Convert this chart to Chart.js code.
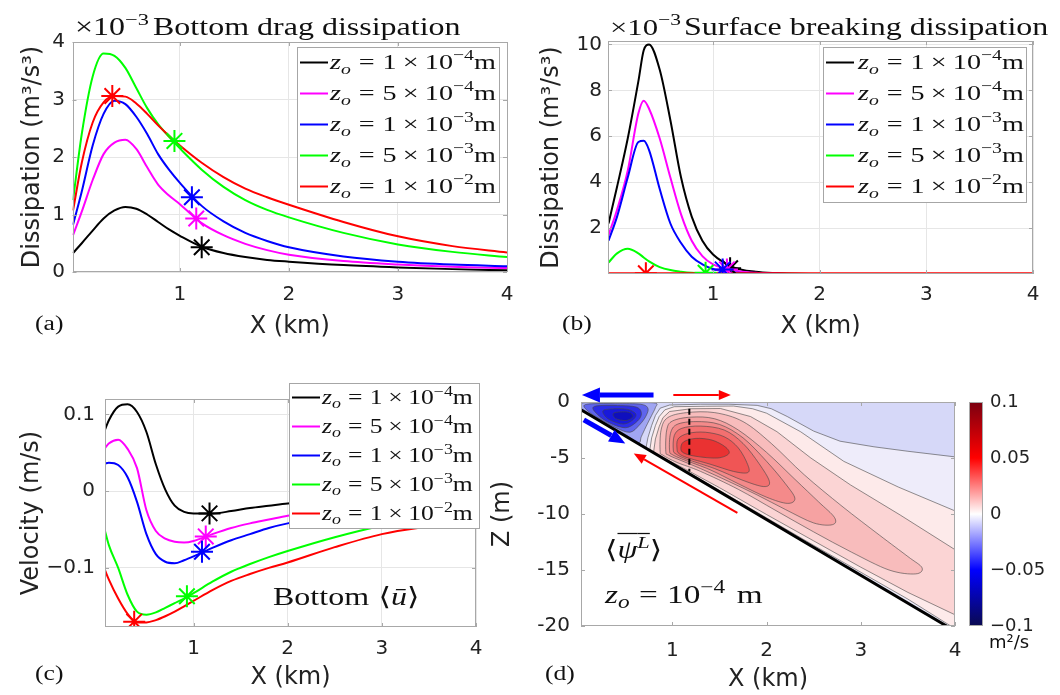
<!DOCTYPE html>
<html>
<head>
<meta charset="utf-8">
<style>
  body { margin: 0; background: #fff; width: 1060px; height: 695px; overflow: hidden; position: relative; }
  canvas { position: absolute; }
</style>
<script src="https://cdn.jsdelivr.net/npm/chart.js@4.4.1/dist/chart.umd.min.js"></script>
</head>
<body>
<canvas id="panelA" width="530" height="345" style="left:0;top:0;width:530px;height:345px"></canvas>
<canvas id="panelB" width="530" height="345" style="left:530px;top:0;width:530px;height:345px"></canvas>
<canvas id="panelC" width="530" height="350" style="left:0;top:345px;width:530px;height:350px"></canvas>
<canvas id="panelD" width="580" height="350" style="left:480px;top:345px;width:580px;height:350px"></canvas>
<script>
// ---- (a) bottom drag dissipation, units of 1e-3 m^3/s^3
const xDrag = [0.02, 0.1, 0.2, 0.3, 0.4, 0.5, 0.6, 0.7, 0.8, 0.9, 1.0, 1.2, 1.4, 1.6, 1.8, 2.0, 2.5, 3.0, 3.5, 4.0];
const drag1e4 = [0.33, 0.50, 0.72, 0.93, 1.07, 1.13, 1.10, 1.00, 0.87, 0.74, 0.63, 0.44, 0.33, 0.26, 0.21, 0.18, 0.12, 0.08, 0.05, 0.03];
const drag5e4 = [0.64, 1.05, 1.60, 2.05, 2.25, 2.30, 2.14, 1.82, 1.52, 1.33, 1.18, 0.85, 0.64, 0.49, 0.38, 0.30, 0.19, 0.13, 0.09, 0.07];
const drag1e3 = [0.82, 1.40, 2.20, 2.75, 2.98, 2.92, 2.70, 2.40, 2.05, 1.78, 1.55, 1.15, 0.88, 0.68, 0.54, 0.43, 0.27, 0.18, 0.13, 0.10];
const drag5e3 = [1.25, 2.40, 3.40, 3.80, 3.76, 3.55, 3.20, 2.85, 2.57, 2.35, 2.15, 1.78, 1.48, 1.25, 1.08, 0.95, 0.68, 0.48, 0.35, 0.26];
const drag1e2 = [1.07, 1.90, 2.60, 2.95, 3.06, 3.05, 2.93, 2.75, 2.55, 2.37, 2.20, 1.90, 1.65, 1.45, 1.30, 1.17, 0.87, 0.62, 0.45, 0.34];
const dragStarX = [1.20, 1.15, 1.11, 0.95, 0.38];
const dragStarY = [0.43, 0.93, 1.30, 2.28, 3.06];

// ---- (b) surface breaking dissipation, units of 1e-3 m^3/s^3
const xBreak = [0.02, 0.1, 0.2, 0.3, 0.35, 0.4, 0.5, 0.6, 0.7, 0.8, 0.9, 1.0, 1.2, 1.4, 1.6, 1.8, 2.0, 3.0, 4.0];
const brk1e4 = [2.2, 3.8, 5.9, 8.4, 9.75, 10.0, 8.9, 6.7, 4.2, 2.5, 1.45, 0.85, 0.28, 0.10, 0.04, 0.01, 0, 0, 0];
const brk5e4 = [1.7, 2.8, 4.5, 7.0, 7.55, 7.2, 5.9, 4.2, 2.6, 1.45, 0.78, 0.42, 0.15, 0.05, 0.02, 0, 0, 0, 0];
const brk1e3 = [1.45, 2.5, 4.2, 5.75, 5.8, 5.4, 3.7, 2.2, 1.35, 0.75, 0.42, 0.22, 0.07, 0.02, 0, 0, 0, 0, 0];
const brk5e3 = [0.5, 0.9, 1.1, 0.9, 0.72, 0.55, 0.3, 0.17, 0.1, 0.05, 0.03, 0.02, 0.01, 0, 0, 0, 0, 0, 0];
const brk1e2 = [0.03, 0.03, 0.03, 0.03, 0.03, 0.03, 0.03, 0.03, 0.03, 0.03, 0.03, 0.03, 0.03, 0.03, 0.03, 0.03, 0.03, 0.03, 0.03];
const brkStarX = [1.16, 1.13, 1.09, 0.93, 0.37];
const brkStarY = [0.25, 0.20, 0.20, 0.05, 0.03];

// ---- (c) bottom velocity, m/s
const xVel = [0.06, 0.1, 0.2, 0.3, 0.4, 0.5, 0.6, 0.7, 0.8, 0.9, 1.0, 1.2, 1.4, 1.6, 1.8, 2.0, 2.5, 3.0, 3.5, 4.0];
const vel1e4 = [0.080, 0.092, 0.110, 0.113, 0.103, 0.077, 0.035, 0.002, -0.019, -0.027, -0.029, -0.029, -0.026, -0.022, -0.019, -0.016, -0.012, -0.009, -0.007, -0.005];
const vel5e4 = [0.056, 0.062, 0.067, 0.055, 0.030, -0.025, -0.052, -0.062, -0.066, -0.067, -0.065, -0.056, -0.048, -0.042, -0.037, -0.032, -0.024, -0.017, -0.012, -0.009];
const vel1e3 = [0.036, 0.037, 0.034, 0.018, -0.014, -0.056, -0.082, -0.092, -0.094, -0.090, -0.085, -0.074, -0.064, -0.056, -0.048, -0.042, -0.031, -0.022, -0.016, -0.012];
const vel5e3 = [-0.052, -0.070, -0.100, -0.135, -0.157, -0.161, -0.158, -0.152, -0.146, -0.140, -0.133, -0.118, -0.105, -0.095, -0.086, -0.078, -0.060, -0.045, -0.034, -0.026];
const vel1e2 = [-0.103, -0.115, -0.140, -0.160, -0.171, -0.171, -0.168, -0.163, -0.157, -0.150, -0.143, -0.129, -0.117, -0.108, -0.100, -0.093, -0.073, -0.056, -0.046, -0.038];
const velStarX = [1.17, 1.13, 1.09, 0.93, 0.37];
const velStarY = [-0.029, -0.059, -0.079, -0.137, -0.170];

// legend entries z_o = m x 10^e
const zoMantissa = ['1', '5', '1', '5', '1'];
const zoExponent = ['−4', '−4', '−3', '−3', '−2'];

// tick values / labels
const xTicks = [1, 2, 3, 4];
const dragTicks = [0, 1, 2, 3, 4];
const breakTicks = [2, 4, 6, 8, 10];
const velTicks = [-0.1, 0, 0.1];
const velTickLabels = ['−0.1', '0', '0.1'];
const depthTicks = [-20, -15, -10, -5, 0];
const depthTickLabels = ['-20', '-15', '-10', '-5', '0'];
const cbTicks = [-0.1, -0.05, 0, 0.05, 0.1];
const cbTickLabels = ['−0.1', '−0.05', '0', '0.05', '0.1'];

// ---- (d) streamfunction: sloping bottom, dashed section, contour outlines [x km, z m]
const bottomX = [0.03, 3.91];
const bottomZ = [-0.7, -20];
const dashX = [1.18, 1.18];
const dashZ = [-0.6, -6.2];
const psiR1 = [[0.72, -4.1], [0.74, -3.2], [0.78, -2.1], [0.82, -1.2], [0.87, -0.55], [0.97, -0.27], [1.3, -0.2], [1.6, -0.2], [1.9, -0.3], [2.05, -0.6], [2.22, -1.3], [2.5, -2.6], [2.78, -3.5], [3.14, -4.0], [3.5, -4.4], [4.05, -4.95], [4.05, -22], [0.7, -22]];
const psiR2 = [[0.76, -4.3], [0.78, -3.2], [0.82, -2.1], [0.86, -1.3], [0.92, -0.7], [1.02, -0.42], [1.35, -0.38], [1.65, -0.36], [1.85, -0.6], [2.0, -1.0], [2.36, -2.65], [2.82, -5.3], [3.4, -7.6], [4.05, -9.9], [4.05, -20.5], [3.5, -17.6], [3.0, -15.2], [2.5, -12.8], [2.0, -10.35], [1.5, -7.9], [1.1, -5.95], [0.78, -4.42]];
const psiR3 = [[0.8, -4.5], [0.82, -3.3], [0.86, -2.2], [0.9, -1.4], [0.97, -0.85], [1.2, -0.6], [1.51, -0.58], [1.83, -1.3], [2.11, -2.65], [2.47, -5.0], [2.89, -7.4], [3.42, -10.1], [4.05, -13.45], [4.05, -19.2], [3.5, -17.0], [3.0, -14.75], [2.5, -12.4], [2.0, -10.05], [1.5, -7.65], [1.15, -6.05], [0.84, -4.7]];
const psiT1 = [[0.87, -4.4], [0.88, -2.5], [0.95, -1.4], [1.15, -0.95], [1.45, -0.95], [1.75, -1.75], [2.05, -3.7], [2.4, -6.5], [2.8, -9.3], [3.2, -11.9], [3.5, -13.8], [3.65, -14.8], [3.58, -15.35], [3.3, -15.0], [2.9, -13.4], [2.5, -11.6], [2.1, -9.7], [1.7, -7.8], [1.3, -6.2], [1.05, -5.4], [0.9, -4.75]];
const psiT2 = [[0.93, -4.4], [0.94, -2.5], [1.0, -1.7], [1.2, -1.35], [1.45, -1.5], [1.7, -2.5], [2.0, -4.5], [2.3, -6.9], [2.55, -8.9], [2.72, -10.3], [2.7, -10.95], [2.5, -10.8], [2.2, -9.6], [1.9, -8.3], [1.6, -7.1], [1.3, -5.95], [1.1, -5.25], [0.96, -4.75]];
const psiT3 = [[0.97, -4.35], [0.98, -2.8], [1.05, -2.0], [1.25, -1.75], [1.5, -2.0], [1.75, -3.2], [2.0, -5.3], [2.2, -7.3], [2.3, -8.6], [2.22, -9.05], [2.0, -8.5], [1.7, -7.3], [1.4, -6.05], [1.12, -5.15], [1.0, -4.7]];
const psiT4 = [[1.01, -4.3], [1.02, -3.0], [1.1, -2.35], [1.3, -2.15], [1.55, -2.5], [1.75, -3.7], [1.92, -5.5], [2.03, -7.1], [1.97, -7.55], [1.75, -7.0], [1.45, -5.95], [1.15, -5.1], [1.04, -4.65]];
const psiT5 = [[1.05, -4.25], [1.06, -3.3], [1.17, -2.8], [1.35, -2.7], [1.55, -3.1], [1.7, -4.1], [1.8, -5.6], [1.8, -6.3], [1.65, -6.2], [1.4, -5.55], [1.15, -4.95], [1.07, -4.6]];
const psiT6 = [[1.09, -4.15], [1.12, -3.55], [1.25, -3.25], [1.42, -3.4], [1.56, -4.0], [1.6, -4.6], [1.48, -5.0], [1.25, -4.85], [1.12, -4.55]];
const psiB1 = [[0.04, -0.1], [0.3, -0.06], [0.6, -0.06], [0.82, -0.1], [0.82, -0.5], [0.78, -1.2], [0.72, -2.2], [0.67, -3.1], [0.64, -3.65], [0.5, -2.9], [0.3, -1.95], [0.1, -0.98], [0.04, -0.72]];
const psiB2 = [[0.08, -0.22], [0.4, -0.15], [0.66, -0.2], [0.74, -0.55], [0.72, -1.25], [0.65, -2.05], [0.55, -2.7], [0.4, -2.3], [0.23, -1.5], [0.11, -0.85]];
const psiB3 = [[0.17, -0.4], [0.45, -0.32], [0.63, -0.5], [0.67, -1.15], [0.61, -1.85], [0.5, -2.3], [0.34, -1.9], [0.21, -1.15]];
const psiB4 = [[0.28, -0.7], [0.5, -0.62], [0.61, -1.05], [0.58, -1.6], [0.48, -1.97], [0.35, -1.65], [0.28, -1.2]];
const psiB5 = [[0.38, -0.98], [0.53, -0.9], [0.58, -1.3], [0.51, -1.65], [0.4, -1.48]];
const psiContours = [psiR1, psiR2, psiR3, psiT1, psiT2, psiT3, psiT4, psiT5, psiT6, psiB1, psiB2, psiB3, psiB4, psiB5];

// circulation arrows in (d)
const arrowX0 = [0.80, 1.01, 0.06, 1.69];
const arrowZ0 = [0.62, 0.62, -1.6, -9.9];
const arrowX1 = [0.04, 1.62, 0.50, 0.59];
const arrowZ1 = [0.62, 0.62, -3.7, -4.6];

const seriesColors = ['#000000', '#ff00ff', '#0000ff', '#00ff00', '#ff0000'];
const SERIF = '"Liberation Serif", "DejaVu Serif", "DejaVu Sans", serif';
const SANS = '"DejaVu Sans", sans-serif';
const SERIF_STRETCH = 1.28;
const tickFont = { family: SANS, size: 20 };
const titleFont = { family: SANS, size: 24 };

// latex-ish text: list of parts {t, it, sub, sup, bar} or {gap}
function drawMath(ctx, x, y, size, parts, sans) {
  ctx.save();
  ctx.translate(x, y);
  if (!sans) ctx.scale(SERIF_STRETCH, 1);
  ctx.fillStyle = '#111';
  ctx.strokeStyle = '#111';
  ctx.textAlign = 'left';
  ctx.textBaseline = 'alphabetic';
  let cx = 0;
  parts.forEach(p => {
    if (p.gap) { cx += p.gap * size; return; }
    const fs = (p.sub || p.sup) ? size * 0.7 : size;
    ctx.font = (p.it ? 'italic ' : '') + fs.toFixed(1) + 'px ' + (sans ? SANS : SERIF);
    const dy = p.sub ? size * 0.2 : (p.sup ? -size * 0.4 : 0);
    const w = ctx.measureText(p.t).width;
    ctx.fillText(p.t, cx, dy);
    if (p.bar) {
      ctx.lineWidth = size * 0.05;
      ctx.beginPath();
      ctx.moveTo(cx, -size * 0.98);
      ctx.lineTo(cx + w, -size * 0.98);
      ctx.stroke();
    }
    cx += w;
  });
  ctx.restore();
}

function zoParts(i) {
  return [{ t: 'z', it: 1 }, { t: 'o', it: 1, sub: 1 }, { gap: 0.28 }, { t: '=' }, { gap: 0.28 },
    { t: zoMantissa[i] }, { gap: 0.22 }, { t: '×' }, { gap: 0.22 }, { t: '10' },
    { t: zoExponent[i], sup: 1 }, { t: 'm' }];
}

const notesPlugin = {
  id: 'notes',
  afterDraw(chart, args, opts) {
    (opts.items || []).forEach(n => drawMath(chart.ctx, n.x, n.y, n.size, n.parts, n.sans));
  }
};

const zoLegend = {
  id: 'zoLegend',
  afterDraw(chart, args, o) {
    if (!o.w) return;
    const ctx = chart.ctx;
    ctx.save();
    ctx.fillStyle = '#fff';
    ctx.strokeStyle = '#a6a6a6';
    ctx.lineWidth = 1;
    ctx.fillRect(o.x, o.y, o.w, o.h);
    ctx.strokeRect(o.x + 0.5, o.y + 0.5, o.w, o.h);
    const rowH = o.h / zoMantissa.length;
    zoMantissa.forEach((m, i) => {
      const cy = o.y + rowH * (i + 0.5);
      ctx.strokeStyle = seriesColors[i];
      ctx.lineWidth = 2;
      ctx.beginPath();
      ctx.moveTo(o.x + 3, cy);
      ctx.lineTo(o.x + 31, cy);
      ctx.stroke();
      drawMath(ctx, o.x + o.textX, cy + o.size * 0.3, o.size, zoParts(i));
    });
    ctx.restore();
  }
};

// matlab style box with inward ticks
const framePlugin = {
  id: 'frame',
  afterDatasetsDraw(chart) {
    const { ctx, chartArea: a } = chart;
    const xs = chart.scales.x, ys = chart.scales.y;
    ctx.save();
    ctx.strokeStyle = '#a8a8a8';
    ctx.lineWidth = 1;
    ctx.strokeRect(Math.round(a.left) + 0.5, Math.round(a.top) + 0.5, Math.round(a.width) - 1, Math.round(a.height) - 1);
    ctx.beginPath();
    xs.ticks.forEach(t => {
      const px = Math.round(xs.getPixelForValue(t.value)) + 0.5;
      ctx.moveTo(px, a.bottom); ctx.lineTo(px, a.bottom - 4);
      ctx.moveTo(px, a.top); ctx.lineTo(px, a.top + 4);
    });
    ys.ticks.forEach(t => {
      const py = Math.round(ys.getPixelForValue(t.value)) + 0.5;
      ctx.moveTo(a.left, py); ctx.lineTo(a.left + 4, py);
      ctx.moveTo(a.right, py); ctx.lineTo(a.right - 4, py);
    });
    ctx.stroke();
    ctx.restore();
  }
};

// closed outline, optionally smoothed with a catmull-rom spline through the points
function tracePath(ctx, pts, smooth) {
  const n = pts.length;
  ctx.beginPath();
  ctx.moveTo(pts[0][0], pts[0][1]);
  if (!smooth) {
    pts.forEach(p => ctx.lineTo(p[0], p[1]));
    ctx.closePath();
    return;
  }
  for (let i = 0; i < n; i++) {
    const p0 = pts[(i - 1 + n) % n], p1 = pts[i], p2 = pts[(i + 1) % n], p3 = pts[(i + 2) % n];
    ctx.bezierCurveTo(
      p1[0] + (p2[0] - p0[0]) / 6, p1[1] + (p2[1] - p0[1]) / 6,
      p2[0] - (p3[0] - p1[0]) / 6, p2[1] - (p3[1] - p1[1]) / 6,
      p2[0], p2[1]);
  }
  ctx.closePath();
}

const contourPlugin = {
  id: 'contours',
  beforeDatasetsDraw(chart, args, o) {
    const { ctx, chartArea: a, scales: { x, y } } = chart;
    const px = p => [x.getPixelForValue(p[0]), y.getPixelForValue(p[1])];
    ctx.save();
    ctx.beginPath();
    ctx.rect(a.left, a.top, a.width, a.height);
    ctx.clip();
    const water = [[bottomX[0], 0], [x.max, 0], [x.max, y.min], [bottomX[1], bottomZ[1]], [bottomX[0], bottomZ[0]]];
    tracePath(ctx, water.map(px), false);
    ctx.fillStyle = o.background;
    ctx.fill();
    ctx.clip();
    psiContours.forEach((poly, k) => {
      tracePath(ctx, poly.map(px), k > 2);
      ctx.fillStyle = o.fills[k];
      ctx.fill();
      ctx.strokeStyle = o.line;
      ctx.lineWidth = 0.8;
      ctx.stroke();
    });
    ctx.restore();
  }
};

const colorbarPlugin = {
  id: 'colorbar',
  afterDraw(chart, args, o) {
    const { ctx, chartArea: a } = chart;
    const cb = chart.scales.cb;
    const top = cb.getPixelForValue(cb.max), bot = cb.getPixelForValue(cb.min);
    const x0 = a.right + o.gap;
    const g = ctx.createLinearGradient(0, bot, 0, top);
    o.stops.forEach(s => g.addColorStop((s[0] - cb.min) / (cb.max - cb.min), s[1]));
    ctx.save();
    ctx.fillStyle = g;
    ctx.fillRect(x0, top, o.width, bot - top);
    ctx.strokeStyle = '#a8a8a8';
    ctx.lineWidth = 1;
    ctx.strokeRect(x0 + 0.5, top + 0.5, o.width - 1, bot - top - 1);
    ctx.restore();
  }
};

const arrowPlugin = {
  id: 'arrows',
  afterDraw(chart, args, o) {
    const { ctx, scales: { x, y } } = chart;
    ctx.save();
    arrowX0.forEach((v, i) => {
      const x0 = x.getPixelForValue(v), y0 = y.getPixelForValue(arrowZ0[i]);
      const x1 = x.getPixelForValue(arrowX1[i]), y1 = y.getPixelForValue(arrowZ1[i]);
      const ang = Math.atan2(y1 - y0, x1 - x0);
      const hl = o.heads[i], hw = hl * 0.42;
      const bx = x1 - hl * Math.cos(ang), by = y1 - hl * Math.sin(ang);
      ctx.strokeStyle = ctx.fillStyle = o.colors[i];
      ctx.lineWidth = o.widths[i];
      ctx.beginPath();
      ctx.moveTo(x0, y0);
      ctx.lineTo(bx, by);
      ctx.stroke();
      ctx.beginPath();
      ctx.moveTo(x1, y1);
      ctx.lineTo(bx + hw * Math.sin(ang), by - hw * Math.cos(ang));
      ctx.lineTo(bx - hw * Math.sin(ang), by + hw * Math.cos(ang));
      ctx.closePath();
      ctx.fill();
    });
    ctx.restore();
  }
};

function fixedTicks(values) {
  return scale => { scale.ticks = values.map(v => ({ value: v })); };
}

function xAxis(p, grid) {
  return {
    type: 'linear', min: p.xMin, max: 4,
    afterBuildTicks: fixedTicks(xTicks),
    afterFit: s => { s.height = p.xAxisH; },
    grid: { display: grid, color: '#e6e6e6', drawTicks: false },
    border: { display: false },
    ticks: { padding: p.xTickPad, color: '#222', font: tickFont, maxRotation: 0, autoSkip: false },
    title: { display: true, text: 'X (km)', color: '#222', font: titleFont, padding: { top: 0, bottom: p.xTitlePad } }
  };
}

function yAxis(p, grid) {
  return {
    type: 'linear', min: p.yMin, max: p.yMax,
    afterBuildTicks: fixedTicks(p.yTicks),
    afterFit: s => { s.width = p.yAxisW; },
    grid: { display: grid, color: '#e6e6e6', drawTicks: false },
    border: { display: false },
    ticks: {
      padding: p.yTickPad, color: '#222', font: tickFont, autoSkip: false,
      callback: (v, i) => (p.yLabels ? p.yLabels[i] : String(v))
    },
    title: { display: true, text: p.yTitle, color: '#222', font: titleFont, padding: { top: p.yTitlePad, bottom: 0 } }
  };
}

function linePanel(canvasId, p) {
  const datasets = p.series.map((ys, i) => ({
    data: p.x.map((x, j) => ({ x: x, y: ys[j] })),
    borderColor: seriesColors[i],
    borderWidth: 2,
    pointRadius: 0,
    cubicInterpolationMode: 'monotone',
    order: 10 - i
  }));
  datasets.push({
    data: p.starX.map((x, j) => ({ x: x, y: p.starY[j] })),
    showLine: false,
    pointStyle: 'star',
    pointRadius: 11,
    pointBorderWidth: 2,
    pointBorderColor: seriesColors,
    pointBackgroundColor: 'transparent',
    order: -1
  });
  return new Chart(document.getElementById(canvasId), {
    type: 'line',
    data: { datasets },
    options: {
      responsive: false, animation: false, devicePixelRatio: 1,
      layout: { padding: { left: 0, top: p.top, right: p.right, bottom: 0 } },
      scales: { x: xAxis(p, true), y: yAxis(p, true) },
      plugins: {
        legend: { display: false }, tooltip: { enabled: false },
        zoLegend: p.legend,
        notes: { items: p.notes }
      }
    },
    plugins: [framePlugin, zoLegend, notesPlugin]
  });
}

const x10m3 = [{ t: '×' }, { t: '10' }, { t: '−3', sup: 1 }];

linePanel('panelA', {
  x: xDrag, series: [drag1e4, drag5e4, drag1e3, drag5e3, drag1e2],
  starX: dragStarX, starY: dragStarY,
  xMin: 0.015, yMin: 0, yMax: 4, yTicks: dragTicks,
  yTitle: 'Dissipation (m³/s³)',
  top: 42, right: 23, yAxisW: 72.5, xAxisH: 73,
  yTitlePad: 18.6, xTitlePad: 3.6, yTickPad: 7.5, xTickPad: 11,
  legend: { x: 297, y: 47, w: 202, h: 155, size: 22, textX: 33 },
  notes: [
    { x: 75, y: 35, size: 25, parts: x10m3 },
    { x: 153, y: 35, size: 25, parts: [{ t: 'Bottom drag dissipation' }] },
    { x: 35, y: 330, size: 20, parts: [{ t: '(a)' }] }
  ]
});

linePanel('panelB', {
  x: xBreak, series: [brk1e4, brk5e4, brk1e3, brk5e3, brk1e2],
  starX: brkStarX, starY: brkStarY,
  xMin: 0.015, yMin: 0, yMax: 10.15, yTicks: breakTicks,
  yTitle: 'Dissipation (m³/s³)',
  top: 41, right: 27, yAxisW: 78, xAxisH: 71,
  yTitlePad: 7.6, xTitlePad: 3.6, yTickPad: 6, xTickPad: 9,
  legend: { x: 293, y: 47, w: 203, h: 155, size: 22, textX: 35 },
  notes: [
    { x: 80, y: 35, size: 24, parts: x10m3 },
    { x: 154, y: 35, size: 25, parts: [{ t: 'Surface breaking dissipation' }] },
    { x: 32, y: 330, size: 20, parts: [{ t: '(b)' }] }
  ]
});

linePanel('panelC', {
  x: xVel, series: [vel1e4, vel5e4, vel1e3, vel5e3, vel1e2],
  starX: velStarX, starY: velStarY,
  xMin: 0.06, yMin: -0.177, yMax: 0.12, yTicks: velTicks, yLabels: velTickLabels,
  yTitle: 'Velocity (m/s)',
  top: 54, right: 54, yAxisW: 105, xAxisH: 68,
  yTitlePad: 17.6, xTitlePad: 2.6, yTickPad: 10, xTickPad: 10,
  legend: { x: 289, y: 38, w: 190, h: 145, size: 20, textX: 33 },
  notes: [
    { x: 273, y: 260, size: 25, parts: [{ t: 'Bottom' }, { gap: 0.3 }, { t: '⟨' }, { t: 'ū', it: 1 }, { t: '⟩' }] },
    { x: 35, y: 335, size: 20, parts: [{ t: '(c)' }] }
  ]
});

const pD = {
  xMin: 0.03, yMin: -20, yMax: 0, yTicks: depthTicks, yLabels: depthTickLabels,
  yTitle: 'Z (m)', yAxisW: 101, xAxisH: 69,
  yTitlePad: 8.6, xTitlePad: 0.6, yTickPad: 11, xTickPad: 12.5
};

new Chart(document.getElementById('panelD'), {
  type: 'line',
  data: {
    datasets: [
      {
        data: bottomX.map((x, i) => ({ x: x, y: bottomZ[i] })),
        borderColor: '#000', borderWidth: 3, pointRadius: 0
      },
      {
        data: dashX.map((x, i) => ({ x: x, y: dashZ[i] })),
        borderColor: '#000', borderWidth: 2, borderDash: [6, 4], pointRadius: 0
      }
    ]
  },
  options: {
    responsive: false, animation: false, devicePixelRatio: 1,
    layout: { padding: { left: 0, top: 57, right: 0, bottom: 0 } },
    scales: {
      x: xAxis(pD, false),
      y: yAxis(pD, false),
      cb: {
        type: 'linear', position: 'right', min: -0.1, max: 0.1,
        afterBuildTicks: fixedTicks(cbTicks),
        afterFit: s => { s.width = 105; },
        grid: { display: false, drawTicks: false },
        border: { display: false },
        ticks: {
          padding: 35, color: '#222', font: { family: SANS, size: 18 }, autoSkip: false,
          callback: (v, i) => cbTickLabels[i]
        }
      }
    },
    plugins: {
      legend: { display: false }, tooltip: { enabled: false },
      contours: {
        background: 'rgb(214,216,248)',
        line: 'rgba(70,70,70,0.75)',
        fills: ['rgb(238,236,250)', 'rgb(253,234,234)', 'rgb(251,212,212)',
          'rgb(248,188,188)', 'rgb(246,162,162)', 'rgb(244,138,138)', 'rgb(242,112,112)', 'rgb(240,85,85)', 'rgb(234,50,50)',
          'rgb(160,165,242)', 'rgb(95,100,236)', 'rgb(45,45,230)', 'rgb(25,25,218)', 'rgb(15,15,190)']
      },
      colorbar: {
        gap: 14, width: 14,
        stops: [[-0.1, '#0a0a50'], [-0.05, '#0000ff'], [0, '#ffffff'], [0.05, '#ff0000'], [0.1, '#7a0010']]
      },
      arrows: { colors: ['#0000ff', '#ff0000', '#0000ff', '#ff0000'], widths: [5, 2, 5, 2], heads: [18, 12, 16, 12] },
      notes: {
        items: [
          { x: 125, y: 213, size: 25, parts: [{ t: '⟨' }, { t: 'ψ', it: 1, bar: 1 }, { t: 'L', it: 1, sup: 1, bar: 1 }, { t: '⟩' }] },
          { x: 125, y: 258, size: 26, parts: [{ t: 'z', it: 1 }, { t: 'o', it: 1, sub: 1 }, { gap: 0.28 }, { t: '=' }, { gap: 0.28 }, { t: '10' }, { t: '−4', sup: 1 }, { gap: 0.35 }, { t: 'm' }] },
          { x: 65, y: 335, size: 20, parts: [{ t: '(d)' }] },
          { x: 509, y: 303, size: 18, sans: 1, parts: [{ t: 'm²/s' }] }
        ]
      }
    }
  },
  plugins: [contourPlugin, framePlugin, colorbarPlugin, arrowPlugin, notesPlugin]
});
</script>
</body>
</html>
